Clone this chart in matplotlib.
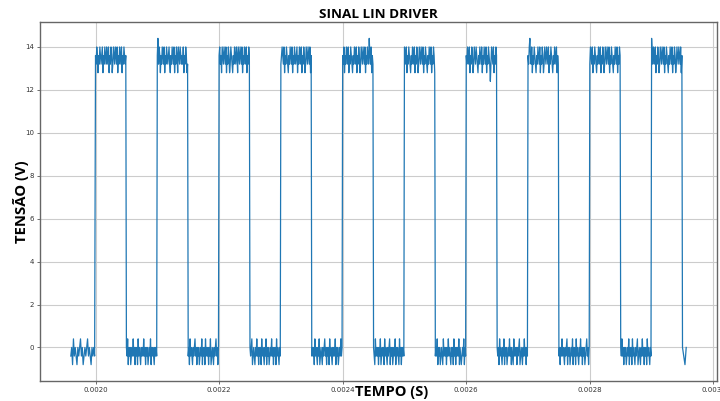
import numpy as np
import matplotlib
matplotlib.use("Agg")
import matplotlib.pyplot as plt
from matplotlib.ticker import MultipleLocator

# Sinal do driver LIN: onda quadrada de 10 kHz com ruído de quantização.
# Cada caractere é um nível ADC amostrado (passo de 0,4 V).
high_levels = [12.4, 12.8, 13.2, 13.6, 14.0, 14.4]   # códigos 0..5
low_levels = [-0.8, -0.4, 0.0, 0.4]                   # códigos 0..3

t_start = 0.00196
rise_times = [0.0020, 0.0021, 0.0022, 0.0023, 0.0024,
              0.0025, 0.0026, 0.0027, 0.0028, 0.0029]
fall_times = [0.00205, 0.00215, 0.00225, 0.00235, 0.00245,
              0.00255, 0.00265, 0.00275, 0.00285, 0.00295]
t_end = 0.002958

high_codes = [
    "32431324323413243242341324312432432413243241324323",
    "35243132432413243234213243241324314324323241324312",
    "34231432432413243124321324324314324324132432413243",
    "23432413243213243241324323413243241324312432432413",
    "32413243241324321324324132431243243241324325324132",
    "43241324321324324132431243243241324321324324132431",
    "32432413243124324321324324132432413243202432413243",
    "32453241324321324324132431243243241324321324324132",
    "24324132432132432413243124324324132432132432413243",
    "53243241324312432432413243213243241324312432432413",
]
low_codes = [
    "1203121021231201212312102121",
    "21302120121312021203121021213120212012130212102121",
    "12031210212312021201213021203121202130121021231202",
    "21230121021312021203121021302120121312021203121021",
    "12120312102130121021231202120312102121302120121312",
    "21031212021301212031210212302120121302121031202121",
    "12130212012103121202131210212031202121302101213021",
    "21203121021302120121312021031212021230121021312021",
    "12021312102123021201213021203121021312021201231202",
    "21312021201213021203121021230121021312021203121021",
    "2102",
]

# monta o sinal segmento a segmento
bounds = [t_start]
for r, f in zip(rise_times, fall_times):
    bounds += [r, f]
bounds.append(t_end)

t, v = [], []
for i in range(len(bounds) - 1):
    codes = low_codes[i // 2] if i % 2 == 0 else high_codes[i // 2]
    levels = low_levels if i % 2 == 0 else high_levels
    ts = np.linspace(bounds[i], bounds[i + 1], len(codes), endpoint=False)
    t.extend(ts)
    v.extend(levels[int(c)] for c in codes)

fig = plt.figure(figsize=(7.2, 4.01), dpi=100)
ax = fig.add_axes([0.0556, 0.050, 0.9402, 0.895])

ax.plot(t, v, color="#1f77b4", linewidth=0.9)

ax.xaxis.set_major_locator(MultipleLocator(0.0002))
ax.yaxis.set_major_locator(MultipleLocator(2))
ax.xaxis.set_major_formatter(plt.FormatStrFormatter("%.4f"))
ax.tick_params(labelsize=5, length=2.5, width=0.5, colors="#333333", pad=2)
ax.grid(True, color="#cccccc", linewidth=0.8)
for s in ax.spines.values():
    s.set_color("#666666")
    s.set_linewidth(1.0)

font = ["Open Sans", "DejaVu Sans"]
ax.set_title("SINAL LIN DRIVER", fontsize=9.7, fontweight="bold",
             family=font, pad=3)
ax.set_xlabel("TEMPO (S)", fontsize=10.5, fontweight="bold", family=font)
ax.set_ylabel("TENSÃO (V)", fontsize=10.7, fontweight="bold", family=font)
ax.xaxis.set_label_coords(0.52, -0.012)
ax.yaxis.set_label_coords(-0.016, 0.5)

fig.savefig("out.png", dpi=100)
